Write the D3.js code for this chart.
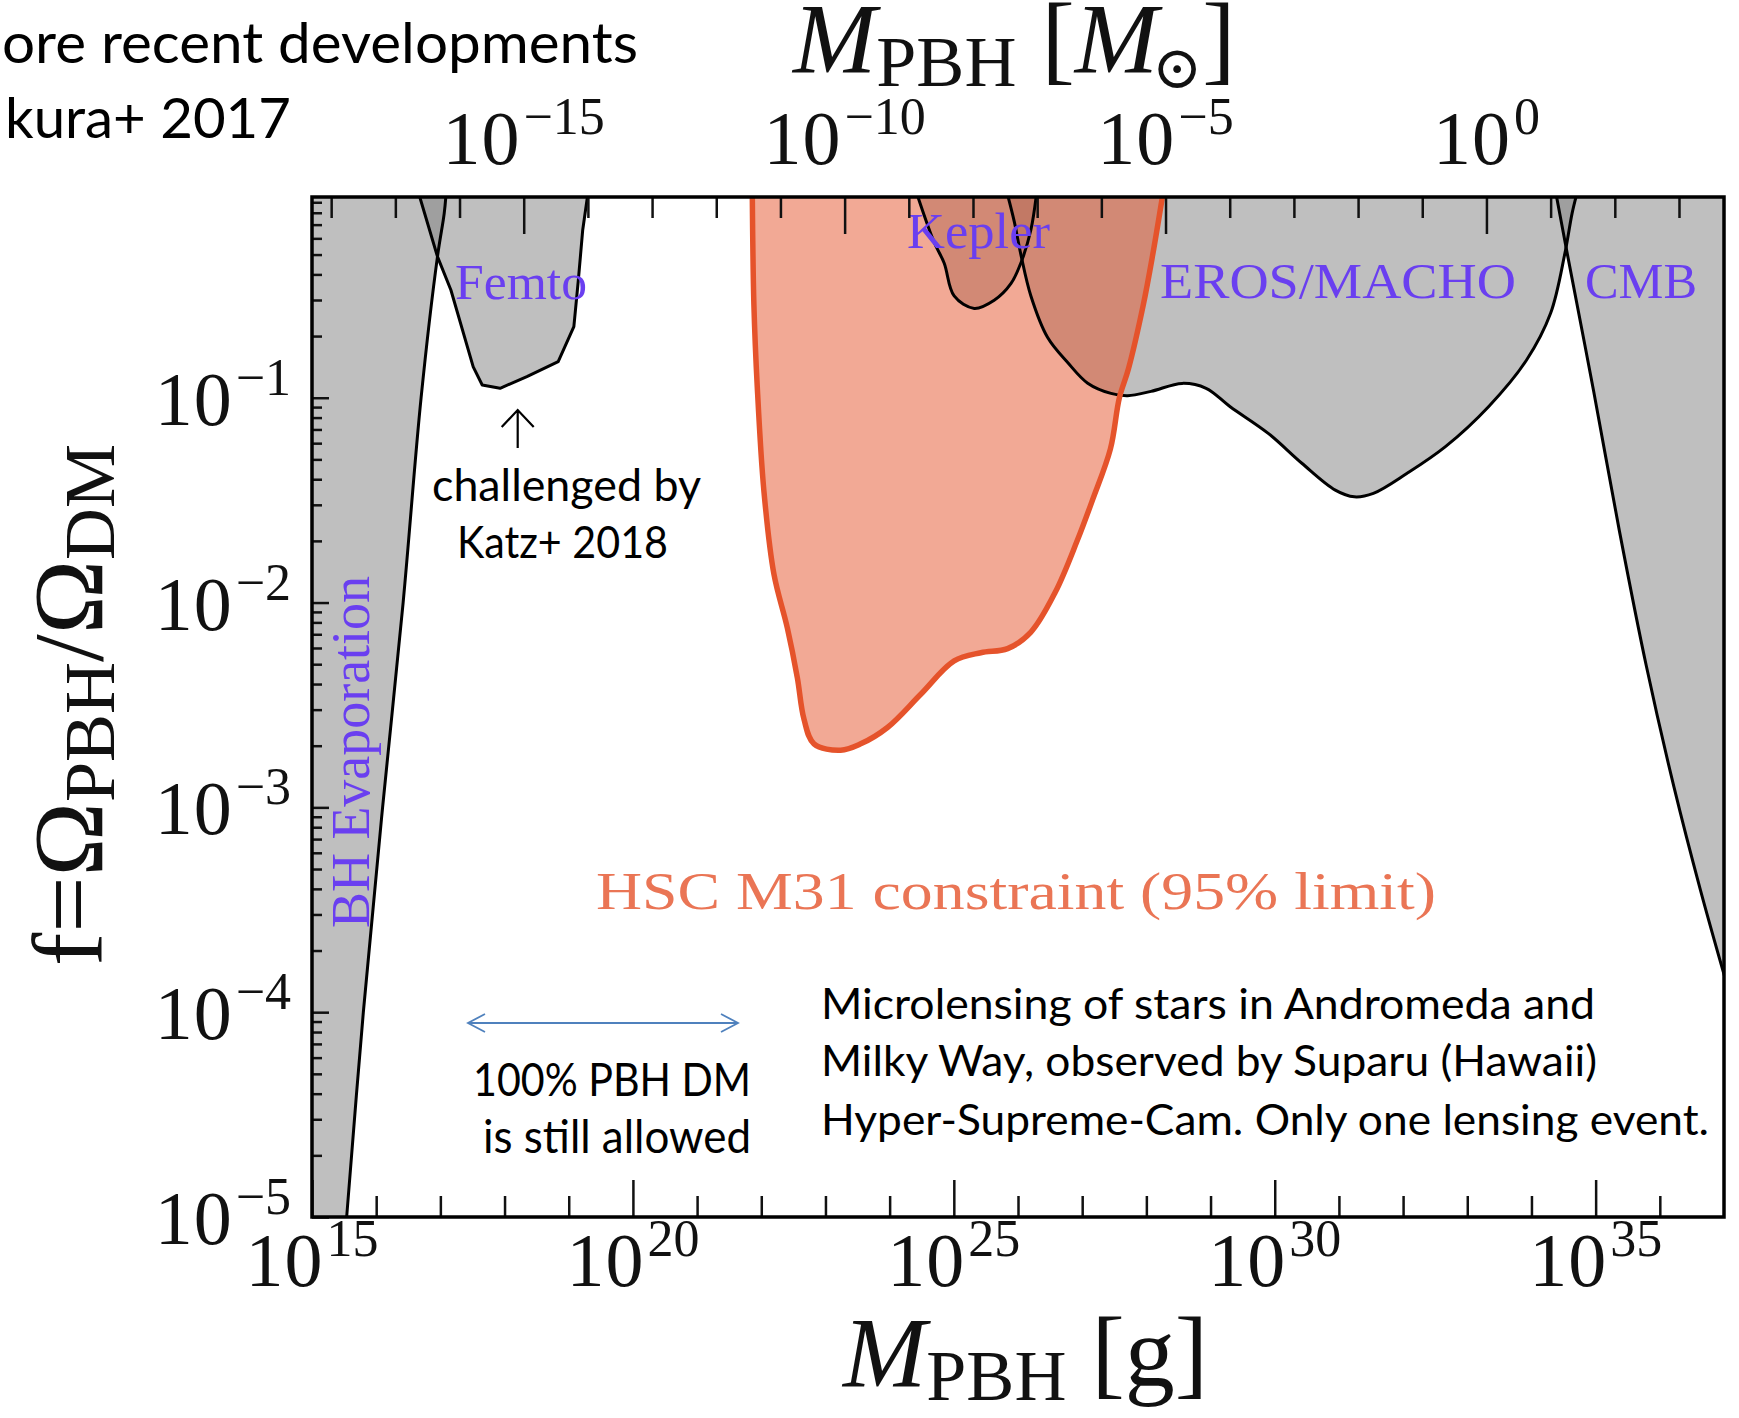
<!DOCTYPE html>
<html>
<head>
<meta charset="utf-8">
<script src="https://cdn.jsdelivr.net/npm/d3@7"></script>
<style>
  body { margin: 0; background: #fff; }
  .serif { font-family: "Liberation Serif", "DejaVu Serif", serif; }
  .sans { font-family: Lato, "Open Sans", sans-serif; }
</style>
</head>
<body>
<svg id="chart" width="1739" height="1418"></svg>
<script>
// ---- data: constraint boundaries as [log10 M/g, log10 f] ----
const bhEvaporation = [[15.54, -5], [15.8, -4], [16.1, -3], [16.42, -2], [16.7, -1],
  [16.955, -0.311], [17.06, -0.1], [17.09, 0]];
const femto = [[16.66, 0], [16.955, -0.311], [17.164, -0.474], [17.512, -0.849], [17.652, -0.938],
  [17.93, -0.954], [18.348, -0.897], [18.836, -0.824], [19.08, -0.653], [19.15, -0.425],
  [19.218, -0.181], [19.3, 0]];
const kepler = [[24.42, 0], [24.693, -0.241], [24.849, -0.342], [25.005, -0.503], [25.317, -0.564],
  [25.629, -0.524], [25.889, -0.443], [26.045, -0.342], [26.201, -0.18], [26.29, 0]];
const erosMacho = [[25.83, 0], [25.941, -0.139], [26.045, -0.301], [26.201, -0.503], [26.462, -0.706],
  [26.774, -0.828], [27.086, -0.929], [27.449, -0.979], [27.71, -0.99], [28.073, -0.969],
  [28.557, -0.93], [28.931, -0.954], [29.306, -1.044], [29.899, -1.174], [30.423, -1.32],
  [30.944, -1.451], [31.24, -1.484], [31.537, -1.467], [32.063, -1.369], [32.66, -1.239],
  [33.331, -1.044], [33.924, -0.816], [34.298, -0.588], [34.521, -0.295], [34.633, -0.1], [34.71, 0]];
const cmb = [[34.38, 0], [34.56, -0.3], [34.97, -0.97], [35.37, -1.65], [35.79, -2.31],
  [36.22, -2.9], [36.63, -3.4], [37.05, -3.87]];
const hscM31 = [[21.86, 0], [21.885, -0.544], [21.938, -0.949], [22.041, -1.455], [22.197, -1.861],
  [22.406, -2.124], [22.562, -2.367], [22.665, -2.569], [22.821, -2.69], [23.237, -2.721],
  [23.549, -2.69], [23.966, -2.61], [24.485, -2.448], [25.005, -2.285], [25.421, -2.245],
  [25.838, -2.225], [26.201, -2.144], [26.58, -1.95], [26.92, -1.7], [27.16, -1.5],
  [27.44, -1.25], [27.58, -1.0], [27.72, -0.86], [27.95, -0.55], [28.1, -0.3], [28.26, 0]];

// ---- axes ----
const SOLAR_MASS_G = 1.989e33;
const massDomainExp = [15, 37];
const fractionDomainExp = [-5, -0.02];
const gramMajorExp = [15, 20, 25, 30, 35];
const gramMinorExp = [16, 17, 18, 19, 21, 22, 23, 24, 26, 27, 28, 29, 31, 32, 33, 34, 36];
const solarMajorExp = [-15, -10, -5, 0];
const solarMinorExp = [-18, -17, -16, -14, -13, -12, -11, -9, -8, -7, -6, -4, -3, -2, -1, 1, 2, 3];
const fractionMajorExp = [-5, -4, -3, -2, -1];
const fractionMinorMantissa = [2, 3, 4, 5, 6, 7, 8, 9];

const W = 1739, H = 1418;
const plot = { left: 312, right: 1724, top: 197, bottom: 1217 };

const svg = d3.select('#chart');
svg.append('rect').attr('width', W).attr('height', H).attr('fill', '#fff');

const x = d3.scaleLog().domain(massDomainExp.map(e => 10 ** e)).range([plot.left, plot.right]);
const xSun = d3.scaleLog().domain(massDomainExp.map(e => 10 ** e / SOLAR_MASS_G)).range([plot.left, plot.right]);
const y = d3.scaleLog().domain(fractionDomainExp.map(e => 10 ** e)).range([plot.bottom, plot.top]);

const px = p => x(10 ** p[0]);
const py = p => y(10 ** p[1]);

svg.append('defs').append('clipPath').attr('id', 'plotClip')
  .append('rect').attr('x', plot.left).attr('y', plot.top)
  .attr('width', plot.right - plot.left).attr('height', plot.bottom - plot.top);

const layer = svg.append('g').attr('clip-path', 'url(#plotClip)');

const smooth = d3.line().x(px).y(py).curve(d3.curveCatmullRom.alpha(0.5));
const straight = d3.line().x(px).y(py);

function region(lineGen, pts, closure) {
  let d = lineGen(pts);
  closure.forEach(c => { d += `L${px(c)},${py(c)}`; });
  return d + 'Z';
}

const GRAY = '#808080';
const grayOpacity = 0.5;
const HSC_COLOR = '#e5532b';

// excluded regions (gray)
const grayRegions = [
  { pts: bhEvaporation, gen: smooth, closure: [[14.8, 0.2], [14.8, -5.3]] },
  { pts: femto, gen: straight, closure: [] },
  { pts: kepler, gen: smooth, closure: [] },
  { pts: erosMacho, gen: smooth, closure: [] },
  { pts: cmb, gen: smooth, closure: [[37.3, -3.87], [37.3, 0.2]] }
];
grayRegions.forEach(r => {
  layer.append('path').attr('d', region(r.gen, r.pts, r.closure))
    .attr('fill', GRAY).attr('fill-opacity', grayOpacity).attr('stroke', 'none');
});

// HSC M31 region
layer.append('path').attr('d', region(smooth, hscM31, []))
  .attr('fill', HSC_COLOR).attr('fill-opacity', 0.5).attr('stroke', 'none');

// boundary lines of gray regions
grayRegions.forEach(r => {
  layer.append('path').attr('d', r.gen(r.pts))
    .attr('fill', 'none').attr('stroke', '#000').attr('stroke-width', 3)
    .attr('stroke-linejoin', 'round');
});

// HSC boundary
layer.append('path').attr('d', smooth(hscM31))
  .attr('fill', 'none').attr('stroke', HSC_COLOR).attr('stroke-width', 5.5)
  .attr('stroke-linejoin', 'round');

// ---- region labels ----
const LABEL_BLUE = '#6a3ff0';
const labels = [
  { text: 'Femto', x: 455, y: 299, len: 132 },
  { text: 'Kepler', x: 907, y: 248, len: 143 },
  { text: 'EROS/MACHO', x: 1160, y: 298, len: 356 },
  { text: 'CMB', x: 1585, y: 298, len: 112 }
];
labels.forEach(l => {
  svg.append('text').attr('class', 'serif').attr('x', l.x).attr('y', l.y)
    .attr('font-size', 50).attr('fill', LABEL_BLUE)
    .attr('textLength', l.len).attr('lengthAdjust', 'spacingAndGlyphs').text(l.text);
});
svg.append('text').attr('class', 'serif')
  .attr('transform', 'translate(369,928) rotate(-90)')
  .attr('font-size', 54).attr('fill', LABEL_BLUE)
  .attr('textLength', 352).attr('lengthAdjust', 'spacingAndGlyphs').text('BH Evaporation');
svg.append('text').attr('class', 'serif').attr('x', 596).attr('y', 909)
  .attr('font-size', 52).attr('fill', '#ea7555')
  .attr('textLength', 840).attr('lengthAdjust', 'spacingAndGlyphs')
  .text('HSC M31 constraint (95% limit)');

// ---- ticks ----
function styleTicks(g) {
  g.select('.domain').remove();
  g.selectAll('.tick line').attr('stroke', '#111').attr('stroke-width', 2.5);
}
const bottomG = svg.append('g').attr('transform', `translate(0,${plot.bottom})`);
bottomG.append('g').call(d3.axisBottom(x).tickValues(gramMajorExp.map(e => 10 ** e)).tickSize(-37).tickFormat('')).call(styleTicks);
bottomG.append('g').call(d3.axisBottom(x).tickValues(gramMinorExp.map(e => 10 ** e)).tickSize(-21).tickFormat('')).call(styleTicks);

const topG = svg.append('g').attr('transform', `translate(0,${plot.top})`);
topG.append('g').call(d3.axisTop(xSun).tickValues(solarMajorExp.map(e => 10 ** e)).tickSize(-37).tickFormat('')).call(styleTicks);
topG.append('g').call(d3.axisTop(xSun).tickValues(solarMinorExp.map(e => 10 ** e)).tickSize(-21).tickFormat('')).call(styleTicks);

const leftG = svg.append('g').attr('transform', `translate(${plot.left},0)`);
const yMinor = [];
fractionMajorExp.forEach(e => fractionMinorMantissa.forEach(m => yMinor.push(m * 10 ** e)));
leftG.append('g').call(d3.axisLeft(y).tickValues(fractionMajorExp.map(e => 10 ** e)).tickSize(-17).tickFormat('')).call(styleTicks);
leftG.append('g').call(d3.axisLeft(y).tickValues(yMinor.filter(v => v <= y.domain()[1])).tickSize(-10).tickFormat('')).call(styleTicks);

// frame
svg.append('rect').attr('x', plot.left).attr('y', plot.top)
  .attr('width', plot.right - plot.left).attr('height', plot.bottom - plot.top)
  .attr('fill', 'none').attr('stroke', '#000').attr('stroke-width', 3.5);

// ---- tick labels: 10^n ----
function powerLabel(px0, py0, exp, anchor) {
  const t = svg.append('text').attr('class', 'serif').attr('x', px0).attr('y', py0)
    .attr('text-anchor', anchor).attr('fill', '#111');
  t.append('tspan').attr('font-size', 76).attr('letter-spacing', 1).text('10');
  t.append('tspan').attr('font-size', 52).attr('dy', -30).attr('dx', 3)
    .text(String(exp).replace('-', '\u2212'));
}
gramMajorExp.forEach(e => powerLabel(x(10 ** e), plot.bottom + 69, e, 'middle'));
solarMajorExp.forEach(e => powerLabel(xSun(10 ** e), 164, e, 'middle'));
fractionMajorExp.forEach(e => powerLabel(291, y(10 ** e) + 27, e, 'end'));

// ---- axis titles ----
const bottomTitle = svg.append('text').attr('class', 'serif')
  .attr('x', 843).attr('y', 1386).attr('fill', '#111');
bottomTitle.append('tspan').attr('font-size', 100).attr('font-style', 'italic').text('M');
bottomTitle.append('tspan').attr('font-size', 72).attr('dy', 14).text('PBH');
bottomTitle.append('tspan').attr('font-size', 100).attr('dy', -14).text(' [g]');

const topTitle = svg.append('text').attr('class', 'serif')
  .attr('x', 793).attr('y', 72).attr('fill', '#111');
topTitle.append('tspan').attr('font-size', 100).attr('font-style', 'italic').text('M');
topTitle.append('tspan').attr('font-size', 72).attr('dy', 14).text('PBH');
topTitle.append('tspan').attr('font-size', 100).attr('dy', -14).text(' [');
topTitle.append('tspan').attr('font-size', 100).attr('font-style', 'italic').text('M');
topTitle.append('tspan').attr('font-size', 60).attr('dy', 16).attr('dx', -6).text('\u2299');
topTitle.append('tspan').attr('font-size', 100).attr('dy', -16).text(']');

const leftTitle = svg.append('text').attr('class', 'serif')
  .attr('transform', 'translate(102,705) rotate(-90)').attr('text-anchor', 'middle').attr('fill', '#111');
leftTitle.append('tspan').attr('font-size', 100).text('f=\u03A9');
leftTitle.append('tspan').attr('font-size', 72).attr('dy', 12).text('PBH');
leftTitle.append('tspan').attr('font-size', 100).attr('dy', -12).text('/\u03A9');
leftTitle.append('tspan').attr('font-size', 72).attr('dy', 12).text('DM');

// ---- slide annotations ----
function note(txt, x0, y0, size, len) {
  svg.append('text').attr('class', 'sans').attr('x', x0).attr('y', y0)
    .attr('font-size', size).attr('fill', '#000')
    .attr('textLength', len).attr('lengthAdjust', 'spacingAndGlyphs').text(txt);
}
note('ore recent developments', 2, 63, 56, 636);
note('kura+ 2017', 5, 138, 56, 286);
note('challenged by', 432, 501, 44, 269);
note('Katz+ 2018', 457, 558, 44, 211);
note('100% PBH DM', 473, 1096, 47, 278);
note('is still allowed', 483, 1153, 47, 268);
note('Microlensing of stars in Andromeda and', 821, 1019, 42, 774);
note('Milky Way, observed by Suparu (Hawaii)', 821, 1076, 42, 776);
note('Hyper-Supreme-Cam. Only one lensing event.', 821, 1135, 42, 888);

// arrow pointing at the femto minimum
const arrowX = 517.7;
svg.append('path').attr('d', `M${arrowX},448 L${arrowX},410 M${arrowX - 16},427 L${arrowX},410 L${arrowX + 16},427`)
  .attr('fill', 'none').attr('stroke', '#000').attr('stroke-width', 2.2);

// double-headed arrow marking the open window
const winY = 1023;
svg.append('path')
  .attr('d', `M468,${winY} L738,${winY} M485,${winY - 9} L468,${winY} L485,${winY + 9} M721,${winY - 9} L738,${winY} L721,${winY + 9}`)
  .attr('fill', 'none').attr('stroke', '#4f81bd').attr('stroke-width', 1.8);
</script>
</body>
</html>
